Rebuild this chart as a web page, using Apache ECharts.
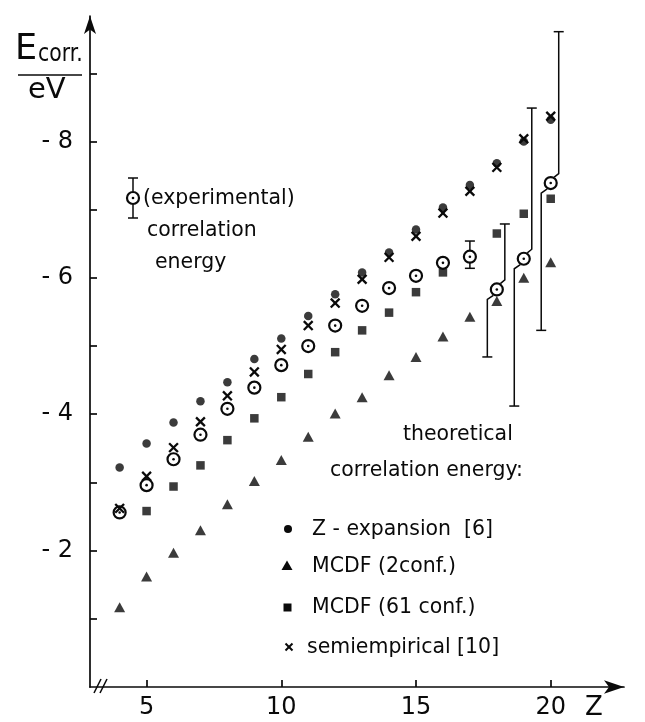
<!DOCTYPE html>
<html><head><meta charset="utf-8">
<script src="https://cdn.jsdelivr.net/npm/echarts@6/dist/echarts.min.js"></script>
<style>html,body{margin:0;padding:0;background:#fff}#c{width:645px;height:722px}</style>
</head><body><div id="c"></div>
<script>
// nuclear charge Z
const Z = [4,5,6,7,8,9,10,11,12,13,14,15,16,17,18,19,20];
// correlation energies in eV
const zExpansion   = [-3.22,-3.57,-3.88,-4.19,-4.47,-4.81,-5.11,-5.44,-5.76,-6.08,-6.37,-6.71,-7.03,-7.36,-7.68,-8.00,-8.32];
const semiempirical= [-2.62,-3.09,-3.51,-3.89,-4.27,-4.62,-4.95,-5.30,-5.63,-5.98,-6.30,-6.61,-6.95,-7.27,-7.62,-8.04,-8.37];
const experimental = [-2.56,-2.96,-3.34,-3.70,-4.08,-4.39,-4.72,-5.00,-5.30,-5.59,-5.85,-6.03,-6.22,-6.31,-5.83,-6.28,-7.39];
const mcdf61       = [null,-2.58,-2.94,-3.25,-3.62,-3.94,-4.25,-4.59,-4.91,-5.23,-5.49,-5.79,-6.08,null,-6.65,-6.94,-7.16];
const mcdf2        = [-1.17,-1.62,-1.97,-2.30,-2.68,-3.02,-3.33,-3.67,-4.01,-4.25,-4.57,-4.84,-5.14,-5.43,-5.66,-6.00,-6.23];
// experimental error bars
const errZ    = [17,18,19,20];
const errLow  = [-6.14,-4.84,-4.12,-5.23];
const errHigh = [-6.54,-6.79,-8.49,-9.61];
// ticks
const xTicks  = [5,10,15,20];
const yTicks  = [-9,-8,-7,-6,-5,-4,-3,-2,-1];
const yLabels = [-8,-6,-4,-2];

const errStepped = [false,true,true,true];
const FONT = 'DejaVu Sans';
const INK = '#0a0a0a';

function pairs(vals){ return Z.map((z,i)=>[z, vals[i]]).filter(p=>p[1]!=null); }

const errData = errZ.map((z,i)=>[z, errLow[i], errHigh[i], experimental[Z.indexOf(z)]]);

function renderErr(params, api){
  const z = api.value(0);
  const pLo = api.coord([z, api.value(1)]);
  const pHi = api.coord([z, api.value(2)]);
  const pC  = api.coord([z, api.value(3)]);
  const x = pC[0], yc = pC[1], r = 6.4, cw = 5;
  const st = {stroke: INK, lineWidth: 1.5, fill: 'none'};
  const ch = [];
  if (!errStepped[params.dataIndex]) {
    ch.push({type:'line', shape:{x1:x,y1:pHi[1],x2:x,y2:yc-r}, style:st});
    ch.push({type:'line', shape:{x1:x,y1:yc+r,x2:x,y2:pLo[1]}, style:st});
    ch.push({type:'line', shape:{x1:x-cw,y1:pHi[1],x2:x+cw,y2:pHi[1]}, style:st});
    ch.push({type:'line', shape:{x1:x-cw,y1:pLo[1],x2:x+cw,y2:pLo[1]}, style:st});
  } else {
    const xu = x + 8, xl = x - 9.5;
    ch.push({type:'polyline', shape:{points:[[xu,pHi[1]],[xu,yc-9.5],[x+3.5,yc-r+0.5]]}, style:st});
    ch.push({type:'polyline', shape:{points:[[x-3.5,yc+r-0.5],[xl,yc+10],[xl,pLo[1]]]}, style:st});
    ch.push({type:'line', shape:{x1:xu-cw,y1:pHi[1],x2:xu+cw,y2:pHi[1]}, style:st});
    ch.push({type:'line', shape:{x1:xl-cw,y1:pLo[1],x2:xl+cw,y2:pLo[1]}, style:st});
  }
  return {type:'group', children: ch};
}
function renderRing(params, api){
  const p = api.coord([api.value(0), api.value(1)]);
  return {type:'group', children:[
    {type:'circle', shape:{cx:p[0],cy:p[1],r:6}, style:{fill:'rgba(255,255,255,0)', stroke:INK, lineWidth:2.2}},
    {type:'circle', shape:{cx:p[0],cy:p[1],r:1.3}, style:{fill:INK}}
  ]};
}
function renderCross(params, api){
  const p = api.coord([api.value(0), api.value(1)]);
  const d = 4.4, st = {stroke: INK, lineWidth: 2.3};
  return {type:'group', children:[
    {type:'line', shape:{x1:p[0]-d,y1:p[1]-d,x2:p[0]+d,y2:p[1]+d}, style:st},
    {type:'line', shape:{x1:p[0]-d,y1:p[1]+d,x2:p[0]+d,y2:p[1]-d}, style:st}
  ]};
}

function txt(x, y, s){
  return {type:'text', x:x, y:y, scaleX:0.93, style:{text:s, font:'22px "'+FONT+'"', fill:INK, verticalAlign:'middle'}, z:100};
}

const graphics = [
  // y axis title
  {type:'text', x:15, y:67, style:{text:'E', font:'35px "'+FONT+'"', fill:INK, verticalAlign:'bottom'}, z:100},
  {type:'text', x:38, y:67, scaleX:0.85, style:{text:'corr.', font:'24px "'+FONT+'"', fill:INK, verticalAlign:'bottom'}, z:100},
  {type:'line', shape:{x1:18,y1:75,x2:82,y2:75}, style:{stroke:INK, lineWidth:1.7}, z:100},
  {type:'text', x:28, y:105, style:{text:'eV', font:'29px "'+FONT+'"', fill:INK, verticalAlign:'bottom'}, z:100},
  // experimental legend symbol
  {type:'line', shape:{x1:133,y1:178,x2:133,y2:191.5}, style:{stroke:INK,lineWidth:1.5}, z:100},
  {type:'line', shape:{x1:133,y1:204.5,x2:133,y2:218}, style:{stroke:INK,lineWidth:1.5}, z:100},
  {type:'line', shape:{x1:128,y1:178,x2:138,y2:178},   style:{stroke:INK,lineWidth:1.5}, z:100},
  {type:'line', shape:{x1:128,y1:218,x2:138,y2:218},   style:{stroke:INK,lineWidth:1.5}, z:100},
  {type:'circle', shape:{cx:133,cy:198,r:6}, style:{fill:'none',stroke:INK,lineWidth:2.2}, z:100},
  {type:'circle', shape:{cx:133,cy:198,r:1.3}, style:{fill:INK}, z:100},
  txt(143,198,'(experimental)'),
  txt(147,230,'correlation'),
  txt(155,262,'energy'),
  // theoretical legend
  txt(403,434,'theoretical'),
  txt(330,470,'correlation energy:'),
  {type:'circle', shape:{cx:288,cy:529,r:4}, style:{fill:INK}, z:100},
  txt(312,529,'Z - expansion  [6]'),
  {type:'polygon', shape:{points:[[287,560.5],[292.5,570],[281.5,570]]}, style:{fill:INK}, z:100},
  txt(312,566,'MCDF (2conf.)'),
  {type:'rect', shape:{x:283.5,y:603.5,width:8,height:8}, style:{fill:INK}, z:100},
  txt(312,607,'MCDF (61 conf.)'),
  {type:'line', shape:{x1:285.5,y1:643.5,x2:292.5,y2:650.5}, style:{stroke:INK,lineWidth:2}, z:100},
  {type:'line', shape:{x1:285.5,y1:650.5,x2:292.5,y2:643.5}, style:{stroke:INK,lineWidth:2}, z:100},
  txt(307,647,'semiempirical [10]'),
  // axis break
  {type:'line', shape:{x1:94,y1:693,x2:101,y2:679}, style:{stroke:INK,lineWidth:1.6}, z:100},
  {type:'line', shape:{x1:100,y1:693,x2:107,y2:679}, style:{stroke:INK,lineWidth:1.6}, z:100},
  // x axis name
  {type:'text', x:585, y:708, style:{text:'Z', font:'26px "'+FONT+'"', fill:INK, verticalAlign:'middle'}, z:100}
];

const axisLineStyle = {color: INK, width: 1.7};
const chart = echarts.init(document.getElementById('c'), null, {renderer:'canvas'});
chart.setOption({
  animation: false,
  backgroundColor: '#fff',
  grid: {left: 90, right: 21, top: 16, bottom: 35, containLabel: false},
  xAxis: {
    type:'value', min:2.9, max:22.72,
    axisLine:{show:true, onZero:false, lineStyle:axisLineStyle, symbol:['none','arrow'], symbolSize:[10,20]},
    axisTick:{show:true, inside:true, length:7, customValues:xTicks, lineStyle:axisLineStyle},
    axisLabel:{show:true, customValues:xTicks, fontSize:24, fontFamily:FONT, color:INK, margin:9},
    splitLine:{show:false}
  },
  yAxis: {
    type:'value', inverse:true, min:-9.84, max:0,
    axisLine:{show:true, onZero:false, lineStyle:axisLineStyle, symbol:['none','arrow'], symbolSize:[9,18]},
    axisTick:{show:true, inside:true, length:7, customValues:yTicks, lineStyle:axisLineStyle},
    axisLabel:{show:true, customValues:yLabels, fontSize:24, fontFamily:FONT, color:INK, margin:17,
      formatter: v => '- ' + Math.abs(v)},
    splitLine:{show:false}
  },
  graphic: graphics,
  series: [
    {type:'custom', name:'error', renderItem: renderErr, data: errData, z:3},
    {type:'scatter', name:'MCDF (2conf.)', data: pairs(mcdf2), symbol:'triangle', symbolSize:[11,10], itemStyle:{color:INK}, z:4},
    {type:'scatter', name:'MCDF (61 conf.)', data: pairs(mcdf61), symbol:'rect', symbolSize:8.5, itemStyle:{color:INK}, z:4},
    {type:'scatter', name:'Z-expansion [6]', data: pairs(zExpansion), symbol:'circle', symbolSize:8.5, itemStyle:{color:INK}, z:4},
    {type:'custom', name:'semiempirical [10]', renderItem: renderCross, data: pairs(semiempirical), z:5},
    {type:'custom', name:'experimental', renderItem: renderRing, data: pairs(experimental), z:6}
  ]
});
</script>
</body></html>
